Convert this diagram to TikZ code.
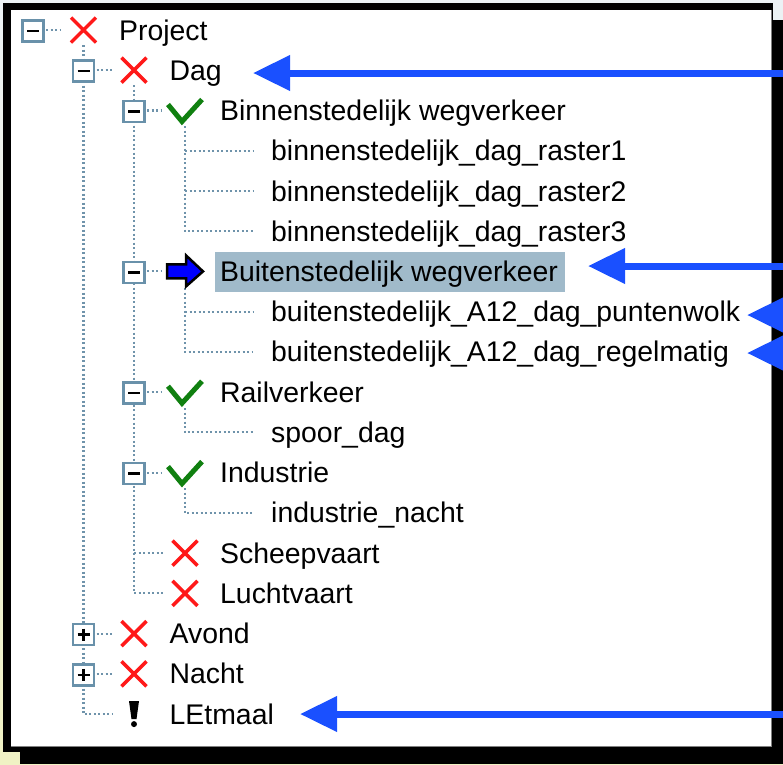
\documentclass[tikz,border=0pt]{standalone}
\usepackage{fontspec}
\setmainfont{Liberation Sans}
\usetikzlibrary{arrows.meta}
\definecolor{treeline}{RGB}{111,147,171}
\definecolor{boxline}{RGB}{105,145,170}
\definecolor{xred}{RGB}{255,25,25}
\definecolor{chkgreen}{RGB}{16,128,16}
\definecolor{annblue}{RGB}{26,80,255}
\definecolor{selbg}{RGB}{160,186,202}
\definecolor{bgtop}{RGB}{236,242,245}
\definecolor{bgbot}{RGB}{240,242,196}
\tikzset{
  tree/.style={treeline, line width=2.1pt, dash pattern=on 2pt off 2.5pt},
  lbl/.style={anchor=base west, inner sep=0pt, text=black},
  annarrow/.style={annblue, line width=7pt, -{Triangle[length=37pt,width=34pt]}},
  minusbox/.pic={\draw[boxline,line width=2.5pt,fill=white] (-10.5,-10.5) rectangle (10.5,10.5);
                 \draw[black,line width=2.5pt] (-6,0)--(6,0);},
  plusbox/.pic={\draw[boxline,line width=2.5pt,fill=white] (-10.5,-10.5) rectangle (10.5,10.5);
                \draw[black,line width=2.5pt] (-6,0)--(6,0) (0,-6)--(0,6);},
  xmark/.pic={\draw[xred,line width=3.5pt] (-12.5,-12.5)--(12.5,12.5) (-12.5,12.5)--(12.5,-12.5);},
  vmark/.pic={\draw[chkgreen,line width=5pt,line join=miter] (-17,-6)--(-3,11)--(17,-11);},
  barrow/.pic={\draw[black,line width=2.5pt,fill=blue,line join=miter]
      (-18,-7)--(1,-7)--(1,-16)--(18,0)--(1,15)--(1,7)--(-18,7)--cycle;},
  bang/.pic={\fill[black] (-5,-13)--(5,-13)--(2.5,5)--(-2.5,5)--cycle;
             \fill[black] (0,10) circle (3);}
}
\begin{document}
\begin{tikzpicture}[x=1pt,y=-1pt,font=\fontsize{28.4}{30}\selectfont]
\useasboundingbox (0,0) rectangle (783,764);
% background, window and shadow
\shade[top color=bgtop, bottom color=bgbot] (0,0) rectangle (783,764);
\fill[black] (20,20) rectangle (783,764);
\fill[black] (3,3) rectangle (773,752);
\fill[white] (11,10) rectangle (771,746);
\draw[gray,line width=1.5pt] (771.5,10)--(771.5,746.5)--(11,746.5);

% tree lines
\draw[tree] (46,30)--(61,30);
\draw[tree] (83.5,45)--(83.5,714.1)--(113,714.1);
\draw[tree] (96.5,70.2)--(111.5,70.2);
\draw[tree] (96.5,633.6)--(111.5,633.6);
\draw[tree] (96.5,673.8)--(111.5,673.8);
\draw[tree] (134,85)--(134,593.4)--(164,593.4);
\draw[tree] (134,553.1)--(164,553.1);
\foreach \yy in {110.5,271.4,392.2,472.6} {\draw[tree] (147,\yy)--(162,\yy);}
\draw[tree] (185,126)--(185,231.2)--(253,231.2);
\draw[tree] (185,150.7)--(253,150.7);
\draw[tree] (185,191)--(253,191);
\draw[tree] (185,288)--(185,351.9)--(253,351.9);
\draw[tree] (185,311.7)--(253,311.7);
\draw[tree] (185,408)--(185,432.4)--(253,432.4);
\draw[tree] (185,488)--(185,512.9)--(253,512.9);

% expander boxes
\pic at (33,31) {minusbox};
\pic at (83.5,71.2) {minusbox};
\pic at (134,111.5) {minusbox};
\pic at (134,272.4) {minusbox};
\pic at (134,393.2) {minusbox};
\pic at (134,473.6) {minusbox};
\pic at (83.5,634.6) {plusbox};
\pic at (83.5,674.8) {plusbox};

% icons
\pic at (83.5,30) {xmark};
\pic at (134,70.2) {xmark};
\pic at (185,110.5) {vmark};
\pic at (185,271.4) {barrow};
\pic at (185,392.2) {vmark};
\pic at (185,472.6) {vmark};
\pic at (185,553.1) {xmark};
\pic at (185,593.4) {xmark};
\pic at (134,633.6) {xmark};
\pic at (134,673.8) {xmark};
\pic at (134,714.1) {bang};

% selection highlight
\fill[selbg] (215,252) rectangle (565,292);

% labels
\node[lbl] (t0) at (119,40) {Project};
\node[lbl] (t1) at (169.5,80.2) {Dag};
\node[lbl] (t2) at (220,120.5) {Binnenstedelijk wegverkeer};
\node[lbl] (t3) at (271,160.7) {binnenstedelijk\_dag\_raster1};
\node[lbl] (t4) at (271,201) {binnenstedelijk\_dag\_raster2};
\node[lbl] (t5) at (271,241.2) {binnenstedelijk\_dag\_raster3};
\node[lbl] (t6) at (220,281.4) {Buitenstedelijk wegverkeer};
\node[lbl] (t7) at (271,321.7) {buitenstedelijk\_A12\_dag\_puntenwolk};
\node[lbl] (t8) at (271,361.9) {buitenstedelijk\_A12\_dag\_regelmatig};
\node[lbl] (t9) at (220,402.2) {Railverkeer};
\node[lbl] (t10) at (271,442.4) {spoor\_dag};
\node[lbl] (t11) at (220,482.6) {Industrie};
\node[lbl] (t12) at (271,522.9) {industrie\_nacht};
\node[lbl] (t13) at (220,563.1) {Scheepvaart};
\node[lbl] (t14) at (220,603.4) {Luchtvaart};
\node[lbl] (t15) at (169.5,643.6) {Avond};
\node[lbl] (t16) at (169.5,683.8) {Nacht};
\node[lbl] (t17) at (169.5,724.1) {LEtmaal};

% annotation arrows
\coordinate (a1s) at (800,73);   \coordinate (a1e) at (253,73);
\coordinate (a2s) at (800,266);  \coordinate (a2e) at (588,266);
\coordinate (a3s) at (800,315);  \coordinate (a3e) at (747,315);
\coordinate (a4s) at (800,353);  \coordinate (a4e) at (747,353);
\coordinate (a5s) at (800,714);  \coordinate (a5e) at (300,714);
\begin{scope}
\clip (0,0) rectangle (783,764);
\draw[annarrow] (a1s) -- (a1e);
\draw[annarrow] (a2s) -- (a2e);
\draw[annarrow] (a3s) -- (a3e);
\draw[annarrow] (a4s) -- (a4e);
\draw[annarrow] (a5s) -- (a5e);
\end{scope}
\end{tikzpicture}
\end{document}
